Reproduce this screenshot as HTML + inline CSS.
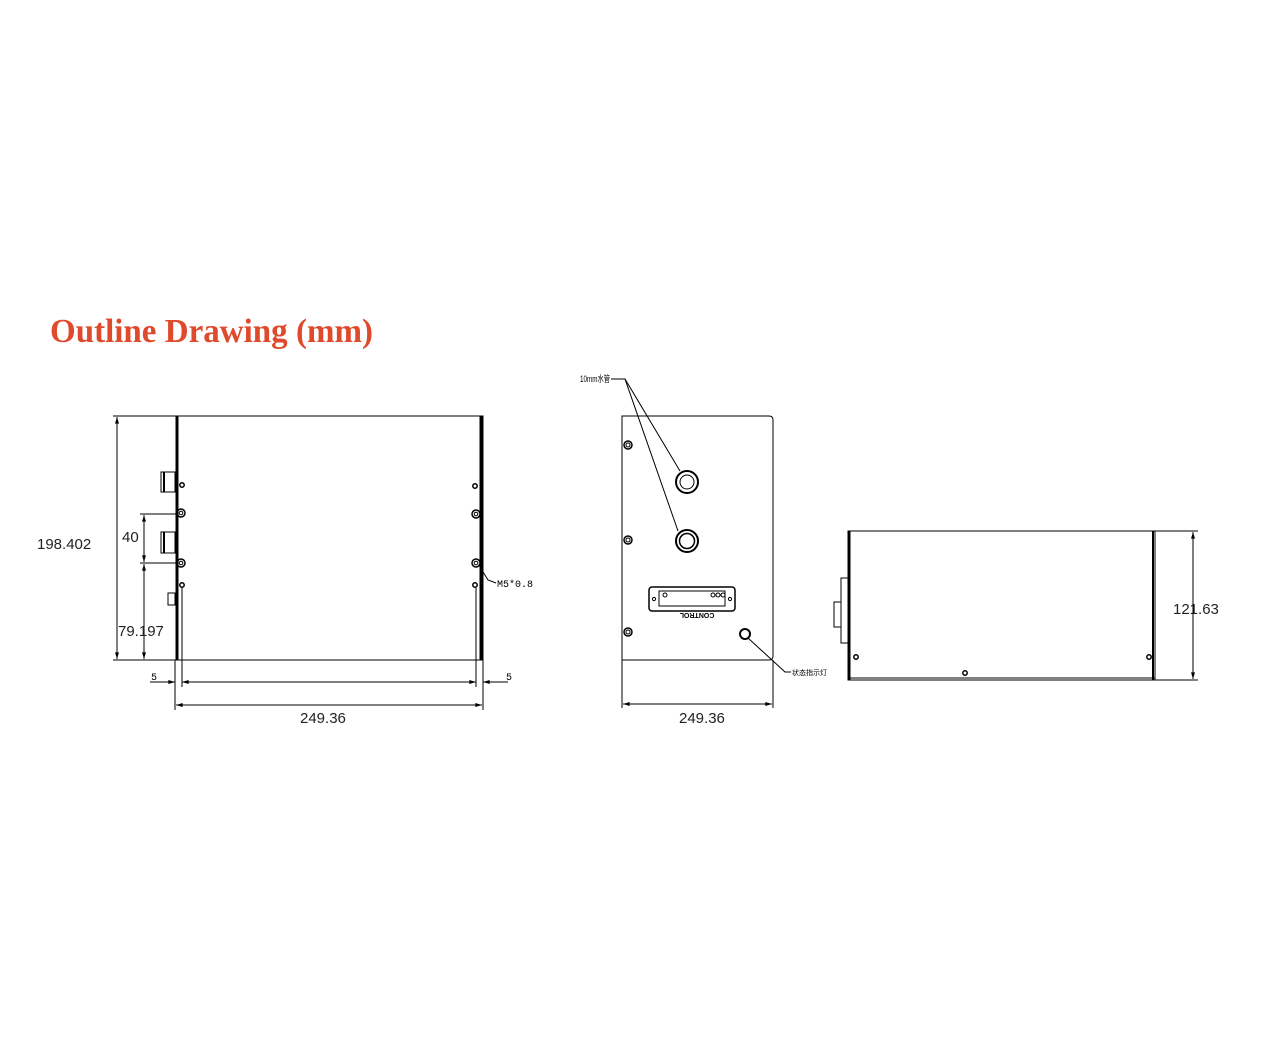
<!DOCTYPE html>
<html><head><meta charset="utf-8"><style>
html,body{margin:0;padding:0;background:#fff;}
svg{display:block;}
</style></head><body>
<svg width="1275" height="1042" viewBox="0 0 1275 1042" xmlns="http://www.w3.org/2000/svg" font-family="Liberation Sans, sans-serif">
<defs>
<marker id="a" viewBox="0 0 10 6" refX="10" refY="3" markerWidth="8" markerHeight="4" orient="auto-start-reverse"><path d="M0,0 L10,3 L0,6z" fill="#000"/></marker>
</defs>
<text x="50" y="342" font-family="Liberation Serif, serif" font-size="34" font-weight="bold" fill="#df4a2c" textLength="323" lengthAdjust="spacingAndGlyphs">Outline Drawing (mm)</text>

<!-- LEFT VIEW -->
<g stroke="#000" fill="none" stroke-width="1">
<rect x="176" y="416" width="307" height="244"/>
<line x1="177" y1="416" x2="177" y2="660" stroke-width="3"/>
<line x1="481" y1="416" x2="481" y2="660" stroke-width="3"/>
<line x1="113" y1="416" x2="176" y2="416"/>
<line x1="113" y1="660" x2="176" y2="660"/>
<line x1="117" y1="417" x2="117" y2="659" marker-start="url(#a)" marker-end="url(#a)"/>
<line x1="140" y1="514" x2="178" y2="514"/>
<line x1="140" y1="563" x2="178" y2="563"/>
<line x1="144" y1="515" x2="144" y2="562" marker-start="url(#a)" marker-end="url(#a)"/>
<line x1="144" y1="564" x2="144" y2="659" marker-start="url(#a)" marker-end="url(#a)"/>
<rect x="161" y="472" width="14" height="20"/><line x1="164" y1="472" x2="164" y2="492" stroke-width="2"/>
<rect x="161" y="532" width="14" height="21"/><line x1="164" y1="532" x2="164" y2="553" stroke-width="2"/>
<rect x="168" y="593" width="7" height="12"/>
<circle cx="182" cy="485" r="2.2" stroke-width="1.5"/>
<circle cx="182" cy="585" r="2.2" stroke-width="1.5"/>
<circle cx="475" cy="486" r="2.2" stroke-width="1.5"/>
<circle cx="475" cy="585" r="2.2" stroke-width="1.5"/>
<circle cx="181" cy="513" r="4" stroke-width="1.5"/><circle cx="181" cy="513" r="1.8"/>
<circle cx="181" cy="563" r="4" stroke-width="1.5"/><circle cx="181" cy="563" r="1.8"/>
<circle cx="476" cy="514" r="4" stroke-width="1.5"/><circle cx="476" cy="514" r="1.8"/>
<circle cx="476" cy="563" r="4" stroke-width="1.5"/><circle cx="476" cy="563" r="1.8"/>
<polyline points="480,567 488,580 496,583"/>
<line x1="175" y1="660" x2="175" y2="710"/>
<line x1="483" y1="660" x2="483" y2="710"/>
<line x1="182" y1="588" x2="182" y2="687"/>
<line x1="476" y1="588" x2="476" y2="687"/>
<line x1="150" y1="682" x2="175" y2="682" marker-end="url(#a)"/>
<line x1="182" y1="682" x2="476" y2="682" marker-start="url(#a)" marker-end="url(#a)"/>
<line x1="508" y1="682" x2="483" y2="682" marker-end="url(#a)"/>
<line x1="176" y1="705" x2="482" y2="705" marker-start="url(#a)" marker-end="url(#a)"/>
</g>
<g font-size="15" fill="#222">
<text x="37" y="549">198.402</text>
<text x="122" y="542">40</text>
<text x="118" y="636">79.197</text>
<text x="300" y="723">249.36</text>
<text x="679" y="723">249.36</text>
<text x="1173" y="614">121.63</text>
</g>
<g font-size="10" fill="#000" font-family="Liberation Mono, monospace">
<text x="497" y="587">M5*0.8</text>
<text x="151" y="680">5</text>
<text x="506" y="680">5</text>
</g>

<!-- MIDDLE VIEW -->
<g stroke="#000" fill="none" stroke-width="1">
<path d="M622,416 H769 Q773,416 773,420 V656 Q773,660 769,660 H622 Z"/>
<line x1="622" y1="660" x2="622" y2="708"/>
<line x1="773" y1="660" x2="773" y2="708"/>
<line x1="623" y1="704" x2="772" y2="704" marker-start="url(#a)" marker-end="url(#a)"/>
<circle cx="628" cy="445" r="4" stroke-width="1.5"/><circle cx="628" cy="445" r="2"/>
<circle cx="628" cy="540" r="4" stroke-width="1.5"/><circle cx="628" cy="540" r="2"/>
<circle cx="628" cy="632" r="4" stroke-width="1.5"/><circle cx="628" cy="632" r="2"/>
<circle cx="687" cy="482" r="11" stroke-width="2"/><circle cx="687" cy="482" r="7"/>
<circle cx="687" cy="541" r="11" stroke-width="2"/><circle cx="687" cy="541" r="7.5" stroke-width="1.5"/>
<rect x="649" y="587" width="86" height="24" rx="3" stroke-width="1.5"/>
<rect x="659" y="591" width="66" height="15"/>
<circle cx="654" cy="599" r="1.6"/><circle cx="730" cy="599" r="1.6"/>
<circle cx="665" cy="595" r="2"/><circle cx="713" cy="595" r="2"/><circle cx="718" cy="595" r="2"/><circle cx="723" cy="595" r="2"/>
<circle cx="745" cy="634" r="5" stroke-width="2"/>
<polyline points="748,638 785,672 791,672"/>
<polyline points="611,379 625,379 680,471"/>
<line x1="625" y1="379" x2="678" y2="531"/>
</g>
<text x="580" y="382" font-size="9" fill="#000" textLength="30" lengthAdjust="spacingAndGlyphs" font-family="Liberation Sans, 'Noto Sans CJK SC', sans-serif">10mm水管</text>
<text x="792" y="675" font-size="7" fill="#000" font-family="Liberation Sans, 'Noto Sans CJK SC', sans-serif">状态指示灯</text>
<text x="697" y="617" font-size="7" font-weight="bold" fill="#000" text-anchor="middle" transform="rotate(180 697 615)">CONTROL</text>

<!-- RIGHT VIEW -->
<g stroke="#000" fill="none" stroke-width="1">
<rect x="848" y="531" width="307" height="149"/>
<line x1="849" y1="531" x2="849" y2="680" stroke-width="3"/>
<line x1="1153" y1="531" x2="1153" y2="680" stroke-width="2"/>
<line x1="848" y1="678" x2="1155" y2="678"/>
<rect x="841" y="578" width="7" height="65"/>
<rect x="834" y="602" width="7" height="25"/>
<circle cx="856" cy="657" r="2.2" stroke-width="1.5"/>
<circle cx="965" cy="673" r="2.2" stroke-width="1.5"/>
<circle cx="1149" cy="657" r="2.2" stroke-width="1.5"/>
<line x1="1155" y1="531" x2="1198" y2="531"/>
<line x1="1155" y1="680" x2="1198" y2="680"/>
<line x1="1193" y1="532" x2="1193" y2="679" marker-start="url(#a)" marker-end="url(#a)"/>
</g>
</svg>
</body></html>
